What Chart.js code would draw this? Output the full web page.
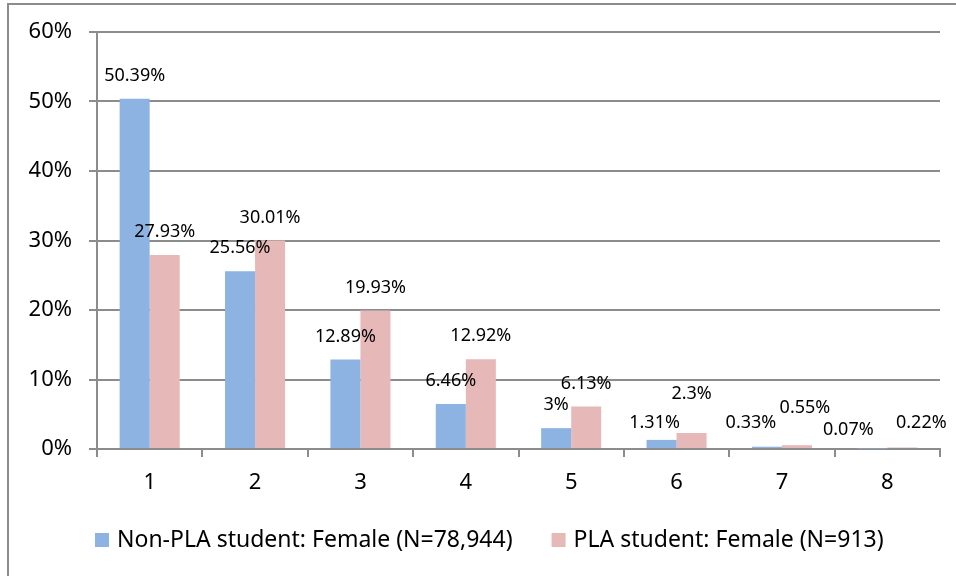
<!DOCTYPE html>
<html>
<head>
<meta charset="utf-8">
<script src="https://cdn.jsdelivr.net/npm/chart.js@4/dist/chart.umd.min.js"></script>
<style>
  html, body { margin: 0; padding: 0; background: #fff; }
  #wrap { position: relative; width: 956px; height: 576px; overflow: hidden; }
  #frame { position: absolute; left: 7px; top: 3px; width: 960px; height: 600px;
           border-left: 2px solid #8c8c8c; border-top: 2px solid #8c8c8c; }
  canvas { position: absolute; left: 0; top: 0; }
</style>
</head>
<body>
<div id="wrap">
  <div id="frame"></div>
  <canvas id="barChart" width="956" height="576"></canvas>
</div>
<script>
const categories = ['1', '2', '3', '4', '5', '6', '7', '8'];
const nonPlaFemale = [50.39, 25.56, 12.89, 6.46, 3, 1.31, 0.33, 0.07];
const plaFemale = [27.93, 30.01, 19.93, 12.92, 6.13, 2.3, 0.55, 0.22];
const yTicks = [0, 10, 20, 30, 40, 50, 60];
const seriesNames = ['Non-PLA student: Female (N=78,944)', 'PLA student: Female (N=913)'];
const seriesColors = ['#8db3e2', '#e6b9b8'];

// labels that were dragged by hand in the original, "dataset:index" -> [dx, dy]
const labelNudge = {
    '0:5': [-7, 6], '1:5': [0, -16],
    '0:6': [-16, -1], '1:6': [8, -14],
    '0:7': [-24, 4], '1:7': [19, -2]
};

const FONT = '"Noto Sans", sans-serif';
const GRID = '#8c8c8c';

const valueLabels = {
    id: 'valueLabels',
    afterDatasetsDraw(chart) {
        const ctx = chart.ctx;
        ctx.save();
        ctx.font = '18px ' + FONT;
        ctx.fillStyle = '#000';
        ctx.textAlign = 'center';
        ctx.textBaseline = 'middle';
        chart.data.datasets.forEach((ds, di) => {
            chart.getDatasetMeta(di).data.forEach((bar, i) => {
                const n = labelNudge[di + ':' + i] || [0, 0];
                ctx.fillText(ds.data[i] + '%', bar.x + n[0], bar.y - 23 + n[1]);
            });
        });
        ctx.restore();
    }
};

const bottomLegend = {
    id: 'bottomLegend',
    afterDraw(chart) {
        const ctx = chart.ctx;
        ctx.save();
        ctx.font = '23px ' + FONT;
        ctx.textBaseline = 'middle';
        ctx.textAlign = 'left';
        const box = 14, gap = 8, spacing = 39, y = 540;
        let x = chart.chartArea.left - 2;
        chart.data.datasets.forEach(ds => {
            ctx.fillStyle = ds.backgroundColor;
            ctx.fillRect(x, y - box / 2, box, box);
            ctx.fillStyle = '#000';
            ctx.fillText(ds.label, x + box + gap, y);
            x += box + gap + ctx.measureText(ds.label).width + spacing;
        });
        ctx.restore();
    }
};

const ctx = document.getElementById('barChart').getContext('2d');
new Chart(ctx, {
    type: 'bar',
    data: {
        labels: categories,
        datasets: [
            { label: seriesNames[0], data: nonPlaFemale, backgroundColor: seriesColors[0] },
            { label: seriesNames[1], data: plaFemale, backgroundColor: seriesColors[1] }
        ]
    },
    options: {
        responsive: false,
        animation: false,
        devicePixelRatio: 1,
        categoryPercentage: 0.57,
        barPercentage: 1.0,
        layout: { padding: { left: 0, right: 16, top: 32, bottom: 0 } },
        plugins: {
            legend: { display: false },
            tooltip: { enabled: false }
        },
        scales: {
            x: {
                afterFit: s => { s.height = 127; },
                grid: { offset: true, drawOnChartArea: false, drawTicks: true, tickLength: 8, color: GRID, lineWidth: 2 },
                border: { display: true, color: GRID, width: 2 },
                ticks: { color: '#000', font: { family: FONT, size: 22 }, padding: 13 }
            },
            y: {
                min: 0,
                max: 60,
                afterFit: s => { s.width = 97; },
                afterBuildTicks: s => { s.ticks = yTicks.map(v => ({ value: v })); },
                grid: { color: GRID, lineWidth: 2, tickLength: 8 },
                border: { display: true, color: GRID, width: 2 },
                ticks: {
                    color: '#000',
                    font: { family: FONT, size: 22 },
                    padding: 17,
                    callback: v => v + '%'
                }
            }
        }
    },
    plugins: [valueLabels, bottomLegend]
});
</script>
</body>
</html>
